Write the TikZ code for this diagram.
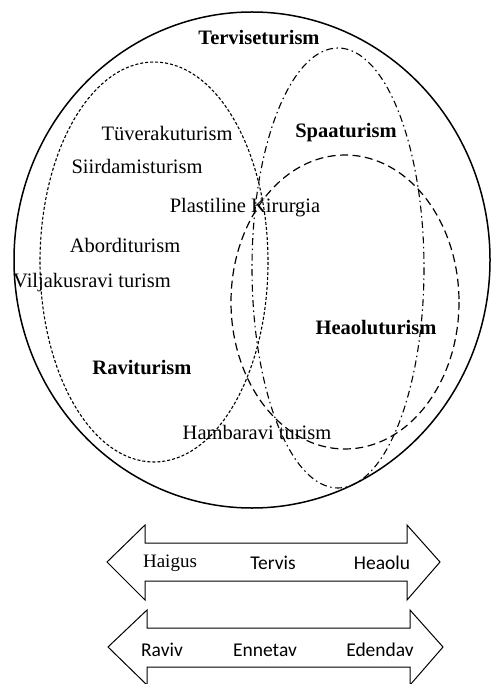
\documentclass[tikz,border=0pt]{standalone}
\usepackage{fontspec}
\setmainfont{Liberation Serif}
\newfontfamily\calib{Carlito}
\usetikzlibrary{positioning}

\begin{document}
\begin{tikzpicture}[x=1pt, y=-1pt,
      lbl/.style={font=\fontsize{20.5}{24}\selectfont, inner sep=0pt},
      hd/.style={lbl, font=\fontsize{20.5}{24}\selectfont\bfseries},
      scl/.style={font=\calib\fontsize{19.5}{22}\selectfont, inner sep=0pt},
      ravi/.style={line width=1.1pt, dash pattern=on 3pt off 2pt},
      spaa/.style={line width=1.1pt, dash pattern=on 7pt off 3.5pt on 1.5pt off 3.5pt},
      heaolu/.style={line width=1.2pt, dash pattern=on 8pt off 4.5pt},
      skaala/.style={draw, line width=1pt, fill=white}]
      \useasboundingbox (0,0) rectangle (491,684);
      % ringid
      \draw[line width=1.5pt] (252,260) ellipse [x radius=238, y radius=248];
      \draw[ravi]   (154,262) ellipse [x radius=114, y radius=200];
      \draw[spaa]   (338,268) ellipse [x radius=86,  y radius=220];
      \draw[heaolu] (345,302) ellipse [x radius=114, y radius=147];
      % tekstid
      \node[hd]  (terv)  at (259,38)  {Terviseturism};
      \node[lbl] (tyv)   at (167,133) {Tüverakuturism};
      \node[hd]  (spaa)  at (346,133) {Spaaturism};
      \node[lbl] (siird) at (137,166) {Siirdamisturism};
      \node[lbl] (plast) at (245,208) {Plastiline Kirurgia};
      \node[lbl] (abord) at (125,245) {Aborditurism};
      \node[lbl] (vilj)  at (92,283)  {Viljakusravi turism};
      \node[hd]  (heaol) at (376,328) {Heaoluturism};
      \node[hd]  (ravi)  at (142,368) {Raviturism};
      \node[lbl] (hamb)  at (257,432) {Hambaravi turism};
      % skaalad
      \draw[skaala] (107,562) -- (145,525) -- (145,543) -- (407,543) -- (407,525)
        -- (440,562) -- (407,600) -- (407,581) -- (145,581) -- (145,600) -- cycle;
      \draw[skaala] (108,647) -- (147,610) -- (147,628) -- (410,628) -- (410,610)
        -- (443,647) -- (410,685) -- (410,667) -- (147,667) -- (147,685) -- cycle;
      \node[lbl, font=\fontsize{19}{22}\selectfont] (haig) at (170,563) {Haigus};
      \node[scl] (tervis) at (273,563) {Tervis};
      \node[scl] (heao)   at (382,563) {Heaolu};
      \node[scl] (raviv)  at (162,650) {Raviv};
      \node[scl] (enne)   at (265,650) {Ennetav};
      \node[scl] (eden)   at (380,650) {Edendav};
    \end{tikzpicture}
\end{document}
